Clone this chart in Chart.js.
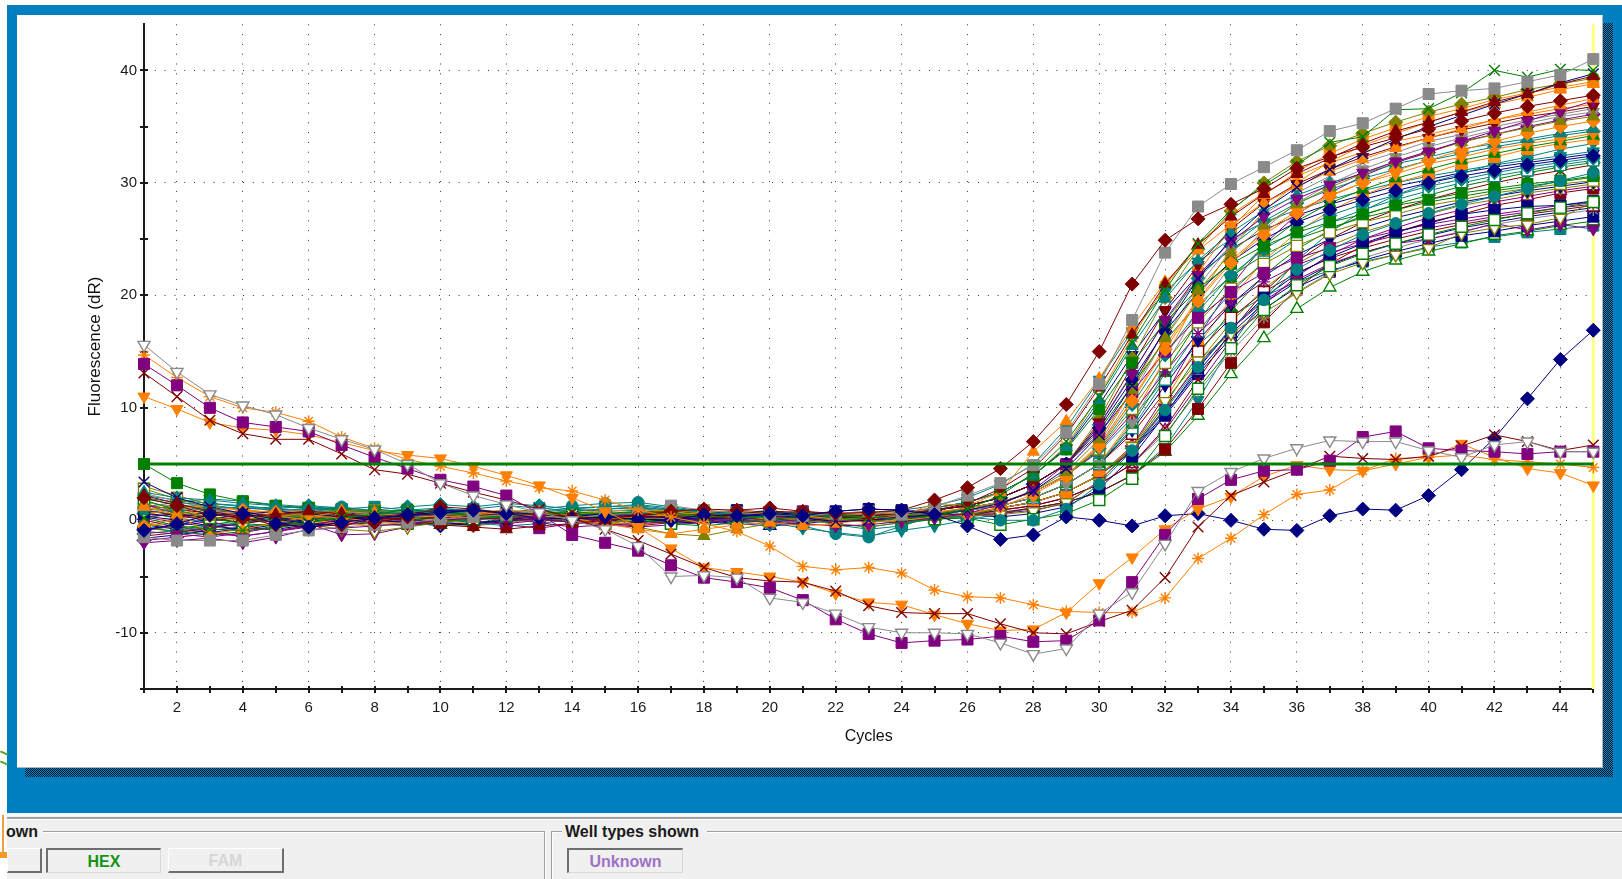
<!DOCTYPE html>
<html><head><meta charset="utf-8">
<script src="https://cdn.jsdelivr.net/npm/chart.js@4.4.1/dist/chart.umd.min.js"></script>
<style>
html,body{margin:0;padding:0;width:1622px;height:879px;overflow:hidden;background:#ffffff;font-family:Arial,'Liberation Sans',Helvetica,sans-serif;}
.abs{position:absolute;}
#blue{left:7px;top:5px;width:1615px;height:808px;background:#0080c0;}
.shadow{background-color:#0080c0;background-image:repeating-conic-gradient(#001a2a 0% 25%, transparent 0% 50%);background-size:2px 2px;}
#panel{left:17px;top:15px;width:1586px;height:753px;background:#ffffff;box-sizing:border-box;border-right:1px solid #b4b4b4;border-bottom:1px solid #b4b4b4;}
#panel canvas{position:absolute;left:0;top:0;}
#bottom{left:7px;top:813px;width:1615px;height:66px;background:#f0f0f0;}
.lbl{font-weight:bold;font-size:16px;line-height:18px;color:#1a1a1a;white-space:nowrap;}
.btn{box-sizing:border-box;height:25px;top:848px;background:#f0f0f0;font-weight:bold;font-size:16px;line-height:24px;text-align:center;}
.sunk{border-top:2px solid #6e6e6e;border-left:2px solid #6e6e6e;border-right:1px solid #d8d8d8;border-bottom:1px solid #d8d8d8;}
.raised{border-top:1px solid #ffffff;border-left:1px solid #ffffff;border-right:2px solid #6e6e6e;border-bottom:2px solid #6e6e6e;}
</style></head>
<body>
<div id="blue" class="abs"></div>
<div class="abs shadow" style="left:1603px;top:23px;width:10px;height:754px;"></div>
<div class="abs shadow" style="left:25px;top:768px;width:1588px;height:9px;"></div>
<div id="panel" class="abs"><canvas id="c" width="1586" height="753"></canvas></div>

<div id="bottom" class="abs"></div>
<div class="abs" style="left:7px;top:814px;width:1615px;height:2px;background:#fafafa"></div>
<div class="abs" style="left:7px;top:817px;width:1615px;height:2px;background:#a0a0a0"></div>
<div class="abs" style="left:7px;top:819px;width:1615px;height:1px;background:#ffffff"></div>
<!-- left group box -->
<div class="abs" style="left:43px;top:831px;width:502px;height:1px;background:#a0a0a0"></div>
<div class="abs" style="left:43px;top:832px;width:502px;height:1px;background:#ffffff"></div>
<div class="abs" style="left:544px;top:831px;width:1px;height:48px;background:#a0a0a0"></div>
<div class="abs" style="left:545px;top:832px;width:1px;height:47px;background:#ffffff"></div>
<div class="abs lbl" style="left:6px;top:823px;">own</div>
<!-- right group box -->
<div class="abs" style="left:551px;top:831px;width:11px;height:1px;background:#a0a0a0"></div>
<div class="abs" style="left:707px;top:831px;width:915px;height:1px;background:#a0a0a0"></div>
<div class="abs" style="left:551px;top:832px;width:11px;height:1px;background:#ffffff"></div>
<div class="abs" style="left:707px;top:832px;width:915px;height:1px;background:#ffffff"></div>
<div class="abs" style="left:551px;top:831px;width:1px;height:48px;background:#a0a0a0"></div>
<div class="abs" style="left:552px;top:832px;width:1px;height:47px;background:#ffffff"></div>
<div class="abs lbl" style="left:565px;top:823px;">Well types shown</div>
<!-- buttons -->
<div class="abs btn raised" style="left:7px;width:35px;"></div>
<div class="abs btn sunk" style="left:46px;width:115px;color:#159315;">HEX</div>
<div class="abs btn raised" style="left:168px;width:116px;color:#d6d6d6;">FAM</div>
<div class="abs btn sunk" style="left:567px;width:116px;color:#9e72c6;">Unknown</div>
<!-- scraps of the window behind -->
<div class="abs" style="left:0px;top:752px;width:8px;height:2px;background:#5aa02a;transform:rotate(25deg);"></div>
<div class="abs" style="left:0px;top:762px;width:8px;height:2px;background:#5aa02a;transform:rotate(25deg);"></div>
<div class="abs" style="left:2px;top:815px;width:2px;height:38px;background:#f0a040"></div>
<div class="abs" style="left:0px;top:852px;width:7px;height:6px;background:#f39a2a"></div>

<script>
// ---------------- data ----------------
const cycles = [1,2,3,4,5,6,7,8,9,10,11,12,13,14,15,16,17,18,19,20,21,22,23,24,25,26,27,28,29,30,31,32,33,34,35,36,37,38,39,40,41,42,43,44,45];
const xTickLabels = [2,4,6,8,10,12,14,16,18,20,22,24,26,28,30,32,34,36,38,40,42,44];
const yTickValues = [-10,0,10,20,30,40];
const yMinorTickValues = [-15,-5,5,15,25,35];
const yAxisMin = -15;
const yAxisMax = 44.1;
const threshold = 5;
const selectedCycle = 45;
const xAxisTitle = 'Cycles';
const yAxisTitle = 'Fluorescence (dR)';

// wells with a falling start / dip below baseline
const grayTriDip = [15.6,13.2,11.2,10.2,9.4, 8.2,7.2,6.3,5.0,3.3, 2.2,1.4,0.7,0.0,-0.8, -2.3,-5.0,-4.9,-5.1,-6.9, -7.3,-8.3,-9.5,-10.0,-10.0, -10.1,-10.9,-11.9,-11.4,-8.3, -6.4,-2.1,2.6,4.3,5.5, 6.4,7.1,7.0,7.0,6.2, 5.6,6.7,7.0,6.1,6.1];
const purpleSqDip = [13.9,12.0,10.0,8.7,8.3, 7.9,6.7,5.6,4.6,3.6, 3.0,2.2,0.6,-1.3,-2.0, -2.7,-4.0,-5.1,-5.5,-6.0, -7.1,-8.8,-10.1,-10.9,-10.7, -10.6,-10.3,-10.8,-10.7,-8.9, -5.5,-1.3,1.9,3.6,4.4, 4.5,5.3,7.4,7.9,6.4, 6.2,6.1,5.9,6.1,6.1];
const maroonXDip = [13.1,11.0,8.9,7.7,7.2, 7.2,5.9,4.5,4.1,3.3, 2.5,1.8,1.0,0.2,-0.8, -1.8,-3.0,-4.2,-5.1,-5.4, -5.5,-6.3,-7.6,-8.2,-8.3, -8.3,-9.2,-10.0,-10.1,-9.0, -8.0,-5.1,-0.6,2.2,3.4, 4.5,5.7,5.5,5.4,5.7, 6.6,7.6,7.0,6.2,6.7];
const orangeStarDip = [14.7,12.7,11.0,10.0,9.6, 8.8,7.4,6.4,5.4,4.8, 4.2,3.5,2.9,2.6,1.8, 0.9,0.3,-0.3,-1.0,-2.3, -4.1,-4.4,-4.2,-4.7,-6.2, -6.8,-6.9,-7.5,-8.1,-8.2, -8.2,-6.9,-3.4,-1.6,0.5, 2.3,2.7,4.4,5.5,5.6, 5.8,5.4,5.2,5.0,4.7];
const orangeTriDip = [11.0,9.9,8.7,8.2,8.0, 7.6,6.9,6.2,5.8,5.5, 4.8,4.0,3.1,2.0,0.8, -0.6,-2.5,-4.2,-4.6,-5.0, -5.5,-6.5,-7.3,-7.5,-8.4, -9.2,-9.8,-9.7,-8.2,-5.6, -3.3,-0.8,1.0,2.1,3.9, 4.9,4.5,4.4,5.0,5.6, 6.8,5.6,4.6,4.2,3.1];
const navyDiamondLate = [-0.9,-0.3,0.5,0.6,-0.3, -0.6,-0.2,0.2,0.5,0.7, 0.9,0.6,0.2,0.1,0.3, 0.1,0.0,0.5,0.4,0.6, 0.4,0.8,1.0,0.9,0.5, -0.5,-1.7,-1.3,0.3,0.0, -0.5,0.4,0.6,0.0,-0.8, -0.9,0.4,1.0,0.9,2.2, 4.5,7.3,10.8,14.3,16.9];

// amplifying wells
const w01 = [2.0,1.3,0.5,0.2,-0.4, -0.6,-0.4,-0.2,0.3,1.2, 1.0,0.6,0.5,0.3,0.2, 0.4,0.8,1.0,0.9,1.1, 0.8,0.6,0.7,0.9,1.8, 2.9,4.6,7.0,10.3,15.0, 21.0,24.9,26.8,28.1,29.5, 31.3,32.3,33.2,34.0,34.8, 35.5,36.2,36.8,37.3,37.8];
const w02 = [-1.5,-1.8,-1.8,-1.8,-1.3, -0.9,-0.6,-0.4,-0.2,0.1, 0.3,0.5,0.4,0.2,0.5, 0.6,1.3,0.9,0.7,0.5, 0.4,0.6,0.8,0.5,1.2, 2.2,3.3,4.9,7.8,12.1, 17.8,23.8,27.9,29.9,31.4, 32.9,34.6,35.3,36.6,37.9, 38.2,38.4,39.0,39.6,41.0];
const w03 = [0.2,-0.5,-0.8,-0.9,-0.7, -0.2,0.2,0.5,1.0,0.6, 0.4,0.3,0.5,0.7,0.6, 0.8,0.6,0.4,0.2,0.4, 0.6,0.5,0.3,0.1,0.4, 1.0,2.2,4.2,7.0,11.0, 15.8,20.5,24.6,27.6,29.8, 31.6,33.6,34.1,36.5,36.6, 38.0,40.0,39.4,40.1,40.0];
const w04 = [2.2,1.5,0.8,0.3,0.5, 0.8,0.6,0.3,0.0,-0.4, -0.6,-0.8,-0.5,-0.3,0.0, 0.2,0.4,0.3,0.6,0.8, 0.7,0.5,0.4,0.6,0.9, 1.5,2.8,4.6,7.6,11.8, 16.5,21.0,24.5,27.0,29.0, 30.8,32.2,33.5,34.6,35.4, 36.3,37.2,37.9,38.8,39.5];
const w05 = [3.4,2.0,1.2,0.6,0.1, -0.3,-0.5,0.2,0.4,0.6, 0.9,0.7,0.5,0.3,0.6, 0.4,0.2,0.1,0.3,0.5, 0.2,-0.1,0.0,0.3,0.5, 0.9,1.5,2.6,4.6,7.6, 12.0,17.0,21.5,25.0,27.6, 29.6,31.2,32.6,33.9,35.0, 36.0,37.0,37.9,38.9,39.7];
const w06 = [1.2,0.5,-1.2,-0.8,-0.2, 0.3,0.8,0.6,0.4,0.3, 0.5,0.7,0.4,0.2,-0.3, -0.8,-1.2,-0.8,-0.4,-0.2, -0.5,-0.3,0.1,0.4,1.5, 1.3,2.5,6.1,8.8,12.6, 17.2,21.2,24.0,26.3,28.2, 29.7,31.0,32.1,33.1,34.0, 34.8,35.6,36.3,36.9,37.5];
const w07 = [-2.0,-1.8,-1.6,-2.0,-1.5, -0.8,-0.7,-0.5,-0.3,0.0, 0.2,0.1,-0.2,-0.6,-0.4, -0.3,-0.1,0.1,0.0,-0.2, -0.3,-0.5,-0.4,-0.1,0.2, 0.6,1.4,2.7,5.0,8.4, 13.0,17.8,21.8,24.8,27.0, 28.6,29.8,30.9,31.9,32.8, 33.7,34.6,35.5,36.4,37.3];
const w08 = [1.5,0.8,0.3,0.0,0.5, 0.6,0.9,0.8,0.7,0.4, 0.2,0.5,0.6,0.3,0.4, -0.6,-1.2,-1.4,-0.8,-0.3, -0.2,0.0,0.3,0.5,0.6, 0.9,1.6,2.6,4.3,7.2, 11.6,16.2,20.4,23.8,26.2, 28.1,29.6,30.8,31.9,32.8, 33.6,34.3,34.9,35.5,35.9];
const w09 = [-0.5,-0.2,0.4,0.9,0.7, 0.4,0.2,-0.1,-0.3,0.0, 0.6,0.9,0.7,0.4,0.2, 0.3,0.5,0.7,0.9,0.6, 0.4,0.1,-0.2,0.0,0.3, 0.5,1.2,2.3,3.9,6.6, 10.6,15.2,19.5,22.9,25.4, 27.3,28.8,30.0,31.1,32.0, 32.9,33.7,34.4,35.0,35.5];
const w10 = [1.0,0.8,1.2,1.1,0.9, 1.0,1.2,0.8,0.9,0.6, 0.8,0.7,1.0,1.3,1.5, 1.6,1.2,0.8,0.4,0.2, -0.5,-1.2,-1.5,-0.5,0.4, 0.3,0.0,0.0,1.0,3.2, 6.2,9.8,13.6,17.1,19.6, 22.3,24.0,25.4,26.4,27.3, 28.1,28.8,29.5,30.2,30.9];
const w11 = [1.8,0.9,0.2,-0.3,-0.5, -0.2,0.3,0.5,0.2,-0.1, 0.1,0.4,0.6,0.5,0.3, 0.0,-0.3,-0.5,-0.2,0.1, 0.3,0.2,0.0,-0.2,0.1, 0.2,-0.4,0.1,0.6,1.8, 3.7,7.5,11.7,15.3,18.7, 20.9,22.6,23.7,24.6,25.4, 26.1,26.7,27.3,27.8,28.3];
const w12 = [0.8,1.4,1.0,0.6,0.1, -0.4,-0.8,-1.0,-0.6,-0.2, 0.2,0.5,0.3,0.0,-0.2, 0.1,0.3,0.5,0.4,0.2, 0.0,-0.3,-0.6,-0.2,0.2, 0.4,0.5,0.8,1.6,3.4, 6.6,10.6,14.2,16.6,18.5, 20.2,21.9,22.9,23.6,24.2, 25.5,26.0,26.3,26.9,28.3];
const w13 = [-1.0,-1.2,-1.5,-1.1,-0.6, -0.3,-1.3,-1.2,-0.6,0.2, 0.4,0.3,0.2,-0.2,-0.4, -0.6,-0.4,-0.2,0.1,0.3, 0.2,-0.1,0.0,0.2,0.3, 0.4,0.6,0.9,1.5,3.5, 6.3,10.0,13.8,17.0,19.5, 21.4,22.8,23.8,24.6,25.0, 25.6,26.4,25.8,26.3,25.9];
const w14 = [0.6,0.3,0.7,0.8,0.2, -0.1,0.1,0.4,0.6,0.9, 0.8,0.5,0.3,0.2,0.4, 0.1,0.0,0.6,0.9,0.7, 0.5,0.8,1.0,0.9,0.6, 0.5,0.3,0.6,1.2,2.8, 5.6,9.4,13.5,17.0,19.8, 21.9,23.4,24.6,25.6,26.4, 27.2,27.6,27.9,28.0,28.4];
const w15 = [2.5,2.0,1.8,1.5,1.3, 1.0,0.9,0.6,0.8,1.0, 0.9,0.7,0.8,1.1,1.2, 1.3,1.0,0.8,0.6,0.9, 0.5,0.3,-0.2,0.3,1.1, 1.6,2.5,4.0,6.5,10.7, 15.5,19.7,23.1,25.6,27.5, 28.9,30.0,30.8,31.7,32.3, 33.0,33.5,33.9,34.4,34.8];
const w16 = [5.0,3.3,2.3,1.7,1.3, 1.1,1.0,0.8,0.9,0.7, 0.5,0.3,0.4,0.5,0.6, 0.7,0.8,0.6,0.5,0.7, 0.6,0.4,0.3,0.2,1.1, 1.6,2.5,4.0,6.3,9.9, 14.0,17.6,20.6,22.8,24.4, 25.6,26.5,27.2,28.0,28.5, 29.1,29.5,29.9,30.2,30.6];
const w17 = [0.3,0.6,0.2,-0.2,0.4, 0.7,0.5,0.2,0.0,0.3, 0.6,0.4,0.1,-0.2,0.2, 0.5,0.7,0.4,0.1,0.3, 0.5,0.2,0.4,0.6,0.9, 1.3,2.0,3.2,5.0,8.7, 13.7,18.7,22.7,25.9,28.2, 29.9,31.2,32.3,33.2,34.0, 34.7,35.3,35.9,36.3,36.8];
const w18 = [-0.8,-0.4,0.1,0.5,0.8, 0.6,0.3,0.0,-0.2,-0.5, -0.3,0.0,0.4,0.6,0.3, 0.2,-0.1,-0.3,0.0,0.4, 0.6,0.4,0.2,0.5,0.9, 1.3,2.0,3.2,5.0,8.2, 12.5,16.8,20.3,23.0,25.0, 26.5,27.6,28.5,29.3,30.0, 30.6,31.1,31.6,32.0,32.4];
const w19 = [1.4,0.6,-0.2,-0.6,-0.9, -0.5,0.1,0.3,0.6,0.4, 0.0,-0.4,-0.7,-0.3,0.1, 0.4,0.2,0.0,0.3,0.6, 0.8,0.5,0.3,0.4,0.9, 1.3,2.0,3.2,5.0,7.7, 11.4,15.0,18.0,20.3,22.0, 23.3,24.2,25.0,25.7,26.3, 26.8,27.2,27.6,28.0,28.3];
const w20 = [0.5,1.0,1.3,0.9,0.4, 0.0,-0.3,0.2,0.5,0.8, 1.0,0.7,0.4,0.2,0.5, 0.8,0.9,0.6,0.3,0.1, 0.3,0.6,0.8,0.5,0.7, 1.1,1.6,2.5,4.0,6.5, 10.7,15.5,19.7,23.1,25.6, 27.5,28.9,30.0,30.8,31.7, 32.3,33.0,33.5,33.9,34.4];
const w21 = [-1.2,-0.9,-0.5,-0.2,0.2, 0.5,0.8,0.6,0.3,0.1, -0.2,-0.5,-0.3,0.1,0.4, 0.6,0.3,0.2,-0.1,-0.4, -0.2,0.1,0.4,0.6,0.5, 1.1,1.6,2.5,4.0,6.4, 10.3,14.7,18.6,21.8,24.1, 25.8,27.1,28.1,28.9,29.7, 30.3,30.9,31.4,31.8,32.2];
const w22 = [2.8,1.9,1.1,0.5,0.2, 0.4,0.7,0.9,0.6,0.3, 0.2,0.4,0.2,-0.1,-0.3, 0.0,0.3,0.5,0.7,0.4, 0.2,0.0,0.3,0.4,0.6, 1.1,1.6,2.5,4.0,6.3, 9.9,14.0,17.6,20.6,22.8, 24.4,25.6,26.5,27.2,28.0, 28.5,29.1,29.5,29.9,30.2];
const w23 = [0.0,-0.6,-1.0,-1.4,-1.0, -0.6,-0.2,0.1,0.3,0.5, 0.3,0.1,0.0,0.2,0.4, 0.5,0.3,-0.1,-0.4,-0.2, 0.1,0.3,0.2,0.4,0.6, 1.1,1.6,2.5,4.0,6.2, 9.5,13.2,16.6,19.3,21.2, 22.7,23.8,24.6,25.3,26.0, 26.5,27.0,27.4,27.8,28.1];
const w24 = [1.6,1.2,0.9,0.7,0.8, 0.9,0.6,0.4,0.2,0.5, 0.7,0.9,0.6,0.4,0.2, 0.0,0.2,0.4,0.6,0.3, 0.1,0.4,0.6,0.4,0.5, 0.9,1.3,2.0,3.2,5.0, 8.7,13.7,18.7,22.7,25.9, 28.2,29.9,31.2,32.3,33.2, 34.0,34.7,35.3,35.9,36.3];
const w25 = [-0.3,-0.7,-0.4,0.0,0.3, 0.2,0.0,-0.3,-0.5,-0.2, 0.2,0.5,0.8,0.6,0.3, 0.1,-0.2,0.0,0.3,0.5, 0.3,0.1,-0.1,0.2,0.4, 0.9,1.3,2.0,3.2,5.0, 8.5,13.1,17.7,21.5,24.4, 26.6,28.2,29.4,30.4,31.2, 32.0,32.6,33.2,33.7,34.2];
const w26 = [2.0,1.6,1.3,1.0,1.2, 1.1,0.8,0.5,0.7,0.9, 0.6,0.4,0.6,0.8,1.0, 1.1,0.9,0.7,0.5,0.6, 0.4,0.2,0.5,0.3,0.6, 0.9,1.3,2.0,3.2,5.0, 8.2,12.5,16.8,20.3,23.0, 25.0,26.5,27.6,28.5,29.3, 30.0,30.6,31.1,31.6,32.0];
const w27 = [-1.6,-1.3,-0.9,-0.6,-0.8, -0.4,0.0,0.3,0.1,-0.2, -0.4,-0.1,0.2,0.4,0.1, -0.2,0.1,0.3,0.5,0.2, 0.0,-0.2,0.1,0.3,0.4, 0.9,1.3,2.0,3.2,5.0, 8.0,12.0,16.0,19.2,21.7, 23.6,25.0,26.0,26.9,27.6, 28.3,28.8,29.3,29.7,30.1];
const w28 = [0.9,0.4,0.0,0.3,0.6, 0.8,0.5,0.1,-0.2,0.0, 0.3,0.6,0.4,0.0,-0.3, -0.5,-0.2,0.2,0.4,0.7, 0.5,0.3,0.0,0.2,0.5, 0.9,1.3,2.0,3.2,5.0, 7.7,11.4,15.0,18.0,20.3, 22.0,23.3,24.2,25.0,25.7, 26.3,26.8,27.2,27.6,28.0];
const w29 = [1.1,0.7,0.3,0.1,0.4, 0.6,0.8,0.5,0.3,0.0, -0.3,-0.1,0.3,0.5,0.8, 1.0,0.7,0.4,0.2,0.3, 0.5,0.7,0.4,0.2,0.3, 0.6,1.1,1.6,2.5,4.0, 6.5,10.7,15.5,19.7,23.1, 25.6,27.5,28.9,30.0,30.8, 31.7,32.3,33.0,33.5,33.9];
const w30 = [-0.6,-1.0,-1.3,-1.0,-0.5, -0.1,0.2,0.5,0.4,0.1, 0.0,0.3,0.6,0.4,0.2, 0.3,0.5,0.2,-0.1,0.1, 0.4,0.2,0.0,-0.3,0.1, 0.4,1.1,1.6,2.5,4.0, 6.4,10.3,14.7,18.6,21.8, 24.1,25.8,27.1,28.1,28.9, 29.7,30.3,30.9,31.4,31.8];
const w31 = [3.0,2.2,1.4,0.9,0.6, 0.3,0.1,0.4,0.7,0.5, 0.2,0.0,0.3,0.5,0.7, 0.4,0.1,0.3,0.6,0.8, 0.6,0.3,0.5,0.2,0.4, 0.6,1.1,1.6,2.5,4.0, 6.3,9.9,14.0,17.6,20.6, 22.8,24.4,25.6,26.5,27.2, 28.0,28.5,29.1,29.5,29.9];
const w32 = [0.4,0.0,-0.5,-0.8,-0.4, 0.0,0.4,0.7,0.5,0.2, 0.4,0.6,0.3,0.1,0.3, 0.6,0.4,0.0,-0.3,-0.5, -0.3,0.0,0.2,0.5,0.3, 0.5,1.1,1.6,2.5,4.0, 6.2,9.5,13.2,16.6,19.3, 21.2,22.7,23.8,24.6,25.3, 26.0,26.5,27.0,27.4,27.8];
const w33 = [1.3,1.0,0.6,0.2,-0.2, -0.4,-0.1,0.3,0.6,0.8, 0.5,0.2,0.0,0.2,0.4, 0.7,0.9,0.6,0.3,0.0, 0.2,0.4,0.3,0.5,0.4, 0.5,0.9,1.3,2.0,3.2, 5.0,8.2,12.5,16.8,20.3, 23.0,25.0,26.5,27.6,28.5, 29.3,30.0,30.6,31.1,31.6];
const w34 = [-0.9,-0.5,-0.1,0.3,0.6, 0.4,0.1,-0.2,0.0,0.3, 0.6,0.8,0.5,0.2,0.0, -0.2,0.1,0.4,0.3,0.1, -0.1,0.2,0.4,0.3,0.5, 0.4,0.9,1.3,2.0,3.2, 5.0,8.0,12.0,16.0,19.2, 21.7,23.6,25.0,26.0,26.9, 27.6,28.3,28.8,29.3,29.7];
const w35 = [2.4,1.7,1.0,0.6,0.3, 0.5,0.4,0.2,-0.1,-0.3, 0.0,0.3,0.5,0.3,0.1, 0.2,0.5,0.3,0.1,-0.2, 0.0,0.3,0.1,-0.1,0.2, 0.3,0.9,1.3,2.0,3.2, 5.0,7.7,11.4,15.0,18.0, 20.3,22.0,23.3,24.2,25.0, 25.7,26.3,26.8,27.2,27.6];
const w36 = [0.7,0.2,-0.2,-0.5,-0.3, 0.1,0.4,0.6,0.5,0.2, 0.1,0.3,0.5,0.7,0.4, 0.2,0.5,0.8,0.6,0.4, 0.5,0.3,0.6,0.9,1.3, 2.0,3.2,5.0,8.2,12.5, 16.8,20.3,23.0,25.0,26.5, 27.6,28.5,29.3,30.0,30.6, 31.1,31.6,32.0,32.4,32.8];
const w37 = [-0.4,0.1,0.5,0.3,-0.1, -0.3,0.0,0.2,0.4,0.6, 0.8,0.6,0.3,0.1,0.3, 0.5,0.4,0.2,0.4,0.6, 0.3,0.5,0.7,0.6,1.1, 1.6,2.5,4.0,6.6,11.1, 16.3,20.8,24.5,27.2,29.1, 30.6,31.8,32.7,33.7,34.3, 35.0,35.6,36.1,36.6,37.0];
const w38 = [1.9,1.4,0.7,0.2,0.0, 0.2,0.5,0.3,0.0,-0.2, 0.1,0.4,0.6,0.8,0.5, 0.3,0.0,-0.2,0.1,0.3, 0.5,0.3,0.2,0.4,0.9, 1.3,2.0,3.2,5.0,8.0, 12.0,16.0,19.2,21.7,23.6, 25.0,26.0,26.9,27.6,28.3, 28.8,29.3,29.7,30.1,30.5];
const w39 = [-1.4,-1.1,-0.7,-0.3,0.1, 0.3,0.2,0.0,-0.3,-0.1, 0.2,0.4,0.3,0.1,0.0, 0.2,0.4,0.6,0.3,0.1, 0.0,-0.2,0.1,0.3,0.2, 0.5,0.7,1.1,1.6,2.5, 4.0,6.3,9.9,14.0,17.6, 20.6,22.8,24.4,25.6,26.5, 27.2,28.0,28.5,29.1,29.5];
const w40 = [0.2,0.6,0.9,1.2,0.8, 0.5,0.3,0.1,0.4,0.7, 0.5,0.2,-0.1,0.1,0.3, 0.5,0.7,0.9,0.6,0.4, 0.2,0.3,0.5,0.4,0.6, 1.1,1.6,2.5,4.0,6.6, 11.1,16.3,20.8,24.5,27.2, 29.1,30.6,31.8,32.7,33.7, 34.3,35.0,35.6,36.1,36.6];
const w41 = [0.6,1.1,1.5,1.2,1.0, 1.3,1.1,0.9,1.2,1.4, 1.2,1.5,1.3,1.0,0.8, 0.9,1.1,0.7,0.5,0.3, 0.1,-0.3,-0.6,-0.2,0.9, 1.3,2.0,3.2,5.0,8.5, 13.1,17.7,21.5,24.4,26.6, 28.2,29.4,30.4,31.2,32.0, 32.6,33.2,33.7,34.2,34.6];
const w42 = [-0.2,0.3,0.8,1.0,0.6, 0.2,-0.2,-0.5,-0.3,0.1, 0.4,0.2,0.5,0.9,0.7, 0.4,0.2,0.0,0.2,0.5, 0.3,0.0,0.2,0.5,0.6, 0.9,1.3,2.0,3.2,5.0, 9.0,14.4,19.8,24.1,27.5, 30.0,31.9,33.3,34.4,35.4, 36.3,37.0,37.6,38.3,38.8];
const w43 = [1.2,1.6,1.9,1.7,1.4, 1.2,1.0,0.7,0.9,1.1, 0.8,0.5,0.7,1.0,1.2, 1.4,1.1,0.6,0.2,-0.2, -0.7,-1.1,-1.4,-0.9,-0.5, 0.0,0.6,1.1,1.6,2.5, 4.0,6.5,10.7,15.5,19.7, 23.1,25.6,27.5,28.9,30.0, 30.8,31.7,32.3,33.0,33.5];
const w44 = [0.3,-0.2,-0.6,-0.3,0.2, 0.6,0.9,0.7,0.4,0.1, -0.2,0.0,0.3,0.1,-0.1, 0.2,0.4,0.6,0.8,0.5, 0.3,0.1,-0.1,0.2,0.4, 0.6,1.1,1.6,2.5,4.0, 6.1,9.3,13.0,16.2,18.8, 20.7,22.1,23.1,23.9,24.6, 25.3,25.7,26.2,26.6,27.0];
const w45 = [-0.7,-1.0,-0.6,-0.2,0.1, 0.4,0.6,0.3,0.0,-0.3, -0.5,-0.2,0.1,0.3,0.5, 0.7,0.4,0.1,-0.1,0.2, 0.5,0.7,0.4,0.3,0.9, 1.3,2.0,3.2,5.0,9.0, 14.4,19.8,24.1,27.5,30.0, 31.9,33.3,34.4,35.4,36.3, 37.0,37.6,38.3,38.8,39.3];
const w46 = [-1.8,-1.5,-1.2,-1.4,-1.0, -0.5,-0.2,0.0,0.3,0.2, -0.1,-0.3,0.0,0.2,0.1, -0.2,0.0,0.3,0.2,0.0, -0.2,0.1,0.3,0.2,0.4, 0.5,1.1,1.6,2.5,4.0, 6.6,11.1,16.3,20.8,24.5, 27.2,29.1,30.6,31.8,32.7, 33.7,34.3,35.0,35.6,36.1];
const w47 = [0.9,0.5,0.1,-0.2,0.0, 0.3,0.5,0.2,-0.1,-0.4, -0.2,0.1,0.4,0.2,0.0, 0.3,0.6,0.4,0.1,-0.2, 0.0,0.3,0.5,0.2,0.1, 0.3,0.6,1.1,1.6,2.5, 4.0,6.1,9.3,13.0,16.2, 18.8,20.7,22.1,23.1,23.9, 24.6,25.3,25.7,26.2,26.6];
const w48 = [1.7,1.0,0.4,0.6,0.9, 0.7,0.4,0.1,0.3,0.6, 0.8,0.5,0.2,0.0,-0.2, -0.4,-0.1,0.3,0.5,0.3, 0.1,0.3,0.6,0.8,0.7, 1.1,1.6,2.5,4.0,6.8, 11.6,17.1,22.0,26.0,28.9, 31.0,32.6,33.9,34.9,35.9, 36.6,37.4,38.0,38.5,39.0];
const w49 = [2.2,1.8,1.5,1.3,1.0, 0.8,1.0,1.2,0.9,0.7, 1.0,1.3,1.1,0.8,1.0, 1.2,0.9,0.6,0.8,0.5, 0.2,-0.4,-0.8,-0.5,0.4, 1.1,1.6,2.5,4.0,6.1, 9.1,12.6,15.6,18.1,19.9, 21.2,22.2,23.0,23.6,24.3, 24.7,25.2,25.6,25.9,26.2];
const w50 = [-0.4,-0.8,-1.1,-0.7,-0.2, 0.2,0.5,0.8,0.6,0.3, 0.5,0.7,0.4,0.1,0.3, 0.0,-0.3,-0.1,0.2,0.4, 0.6,0.4,0.5,0.7,1.1, 1.6,2.5,4.0,6.4,10.3, 14.7,18.6,21.8,24.1,25.8, 27.1,28.1,28.9,29.7,30.3, 30.9,31.4,31.8,32.2,32.6];

// ---------------- styles ----------------
const FONT = "Arial, 'Liberation Sans', Helvetica, sans-serif";
const COL = { maroon:'#800000', green:'#008000', navy:'#000080', purple:'#800080', teal:'#008080', olive:'#808000', gray:'#8a8a8a', orange:'#ff8000' };
const MK = {
  diamond:     {s:'rectRot',  r:7,   fill:true,  rot:0},
  square:      {s:'rect',     r:7.8, fill:true,  rot:0},
  squareOpen:  {s:'rect',     r:7.8, fill:false, rot:0},
  tri:         {s:'triangle', r:7,   fill:true,  rot:0},
  triOpen:     {s:'triangle', r:7,   fill:false, rot:0},
  triDown:     {s:'triangle', r:7,   fill:true,  rot:180},
  triDownOpen: {s:'triangle', r:7,   fill:false, rot:180},
  cross:       {s:'crossRot', r:7.5, fill:false, rot:0},
  star:        {s:'star',     r:6,   fill:false, rot:0},
  circle:      {s:'circle',   r:5.8, fill:true,  rot:0}
};
// [values, colour, marker]  (first entries are drawn on top)
const seriesTable = [
  [grayTriDip,'gray','triDownOpen'], [purpleSqDip,'purple','square'], [maroonXDip,'maroon','cross'],
  [orangeStarDip,'orange','star'], [orangeTriDip,'orange','triDown'], [navyDiamondLate,'navy','diamond'],
  [w01,'maroon','diamond'], [w02,'gray','square'], [w03,'green','cross'], [w04,'maroon','tri'],
  [w05,'navy','cross'], [w06,'orange','tri'], [w07,'purple','triDown'], [w08,'olive','tri'],
  [w09,'orange','diamond'], [w10,'teal','circle'], [w11,'green','squareOpen'], [w12,'olive','triDownOpen'],
  [w13,'purple','triDown'], [w14,'navy','square'], [w15,'teal','tri'], [w16,'green','square'],
  [w17,'maroon','triDown'], [w18,'navy','diamond'], [w19,'purple','square'], [w20,'orange','triDown'],
  [w21,'teal','diamond'], [w22,'olive','squareOpen'], [w23,'purple','star'], [w24,'gray','triDown'],
  [w25,'green','tri'], [w26,'teal','squareOpen'], [w27,'navy','triDown'], [w28,'maroon','squareOpen'],
  [w29,'orange','square'], [w30,'green','diamond'], [w31,'olive','triDown'], [w32,'navy','triOpen'],
  [w33,'maroon','cross'], [w34,'purple','triOpen'], [w35,'gray','star'], [w36,'teal','triDown'],
  [w37,'orange','cross'], [w38,'green','circle'], [w39,'maroon','square'], [w40,'gray','cross'],
  [w41,'teal','diamond'], [w42,'orange','tri'], [w43,'teal','triDown'], [w44,'navy','square'],
  [w45,'olive','diamond'], [w46,'purple','diamond'], [w47,'green','triOpen'], [w48,'orange','square'],
  [w49,'teal','square'], [w50,'navy','triDown']
];

function makeDataset(values, colName, markName) {
  const m = MK[markName], c = COL[colName];
  return {
    data: cycles.map((cy, i) => ({x: cy, y: values[i]})),
    borderColor: c, borderWidth: 1, tension: 0, fill: false, clip: false,
    pointStyle: m.s, pointRadius: m.r, pointHoverRadius: m.r, pointRotation: m.rot,
    pointBackgroundColor: m.fill ? c : '#ffffff', pointBorderColor: c,
    pointBorderWidth: m.fill ? 1 : 1.4
  };
}

const datasets = [];
datasets.push({
  data: [{x: cycles[0], y: threshold}, {x: cycles[cycles.length - 1], y: threshold}],
  borderColor: '#008000', borderWidth: 3, pointRadius: 0, clip: false, fill: false
});
seriesTable.forEach(row => datasets.push(makeDataset(row[0], row[1], row[2])));
datasets.push({
  data: [{x: selectedCycle, y: yAxisMin}, {x: selectedCycle, y: yAxisMax}],
  borderColor: '#ffff80', borderWidth: 3, pointRadius: 0, clip: false, fill: false
});

const axisTicks = {
  id: 'axisTicks',
  beforeDatasetsDraw(chart) {
    const {ctx, chartArea, scales} = chart;
    ctx.save();
    ctx.strokeStyle = '#1a1a1a';
    ctx.lineWidth = 2;
    ctx.beginPath();
    cycles.forEach(v => {
      const x = Math.round(scales.x.getPixelForValue(v));
      ctx.moveTo(x, chartArea.bottom - 3); ctx.lineTo(x, chartArea.bottom + 4);
    });
    yTickValues.concat(yMinorTickValues).forEach(v => {
      const y = Math.round(scales.y.getPixelForValue(v));
      ctx.moveTo(chartArea.left - 4, y); ctx.lineTo(chartArea.left + 4, y);
    });
    ctx.stroke();
    // y-axis title, placed like the instrument software (slightly above the axis centre)
    ctx.fillStyle = '#111111';
    ctx.font = '17px ' + FONT;
    ctx.textAlign = 'center';
    ctx.textBaseline = 'middle';
    ctx.translate(78, 331.5);
    ctx.rotate(-Math.PI / 2);
    ctx.fillText(yAxisTitle, 0, 0);
    ctx.restore();
  }
};

new Chart(document.getElementById('c').getContext('2d'), {
  type: 'line',
  data: { datasets },
  plugins: [axisTicks],
  options: {
    responsive: false, animation: false, devicePixelRatio: 1,
    events: [],
    layout: { padding: { left: 0, top: 9.3, right: 9.7, bottom: 0 } },
    plugins: { legend: { display: false }, tooltip: { enabled: false }, title: { display: false } },
    scales: {
      x: {
        type: 'linear', min: cycles[0], max: cycles[cycles.length - 1],
        afterBuildTicks: s => { s.ticks = cycles.map(v => ({value: v})); },
        afterFit: s => { s.height = 79; s.paddingLeft = 0; s.paddingRight = 0; },
        ticks: {
          autoSkip: false, maxRotation: 0, minRotation: 0, padding: 10,
          font: { family: FONT, size: 15 }, color: '#1a1a1a',
          callback: v => xTickLabels.includes(v) ? String(v) : ''
        },
        grid: {
          drawTicks: false, lineWidth: 1,
          color: ctx => (ctx.tick && xTickLabels.includes(ctx.tick.value)) ? '#333333' : 'rgba(0,0,0,0)'
        },
        border: { display: true, color: '#1a1a1a', width: 2, dash: [1, 8.8] },
        title: { display: true, text: xAxisTitle, font: { family: FONT, size: 16 }, color: '#111111', padding: { top: 0, bottom: 22 } }
      },
      y: {
        type: 'linear', min: yAxisMin, max: yAxisMax,
        afterBuildTicks: s => { s.ticks = yTickValues.map(v => ({value: v})); },
        afterFit: s => { s.width = 127; s.paddingTop = 0; s.paddingBottom = 0; },
        ticks: { padding: 7, font: { family: FONT, size: 15 }, color: '#1a1a1a', callback: v => String(v) },
        grid: { drawTicks: false, lineWidth: 1, color: '#333333' },
        border: { display: true, color: '#1a1a1a', width: 2, dash: [1, 8.8] },
        title: { display: false }
      }
    }
  }
});
</script>
</body></html>
